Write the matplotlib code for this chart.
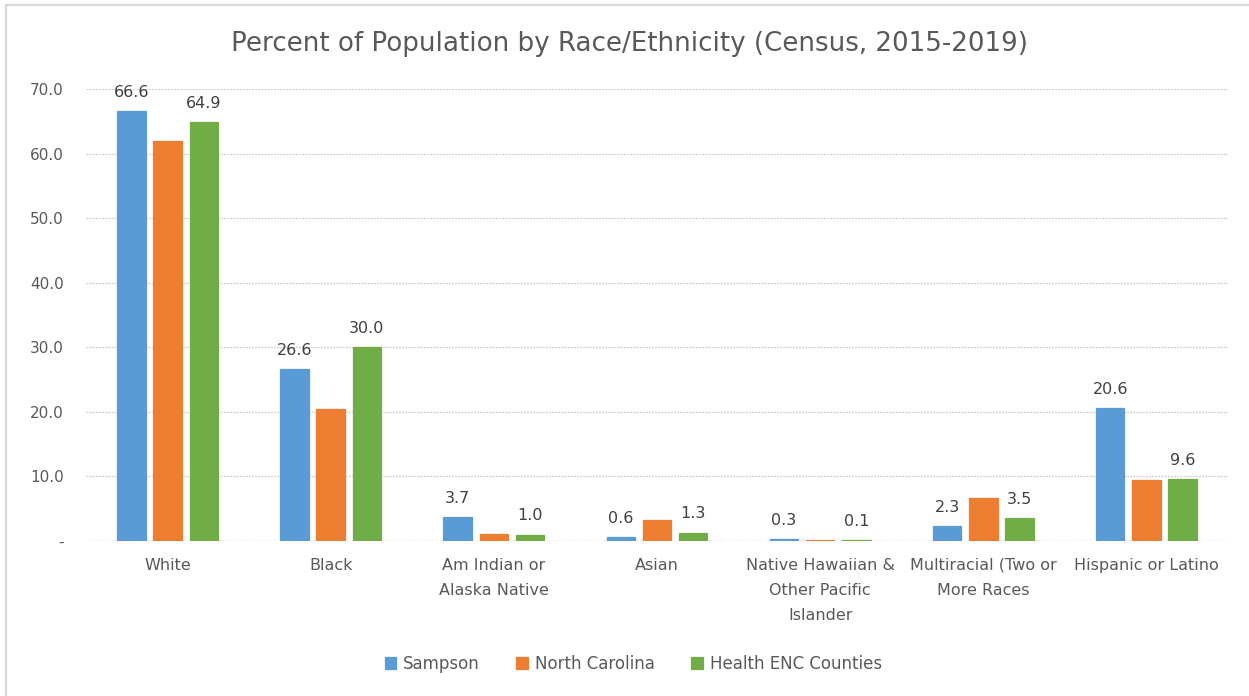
import numpy as np
import matplotlib.pyplot as plt
from matplotlib.patches import Rectangle

categories = ['White', 'Black', 'Am Indian or\nAlaska Native', 'Asian',
              'Native Hawaiian &\nOther Pacific\nIslander',
              'Multiracial (Two or\nMore Races', 'Hispanic or Latino']
sampson = [66.6, 26.6, 3.7, 0.6, 0.3, 2.3, 20.6]
north_carolina = [62.0, 20.4, 1.1, 3.2, 0.2, 6.7, 9.5]
health_enc = [64.9, 30.0, 1.0, 1.3, 0.1, 3.5, 9.6]
series_names = ['Sampson', 'North Carolina', 'Health ENC Counties']
yticks = [0, 10, 20, 30, 40, 50, 60, 70]
ytick_labels = ['-', '10.0', '20.0', '30.0', '40.0', '50.0', '60.0', '70.0']

colours = ['#5B9BD5', '#ED7D31', '#70AD47']
text_grey = '#595959'

fig = plt.figure(figsize=(12.49, 6.96), dpi=100)
W, H = 1249, 696

# chart frame (Excel chart area border)
fig.patches.append(Rectangle((6 / W, -0.05), 1.2, 1 - 5 / H + 0.05,
                             transform=fig.transFigure, fill=False,
                             edgecolor='#d9d9d9', lw=1.6))

ax = fig.add_axes([86 / W, 1 - 541 / H, (1228 - 86) / W, (541 - 89) / H])

x = np.arange(len(categories))
width = 0.175
step = 0.222
all_series = [sampson, north_carolina, health_enc]
for i, (vals, name) in enumerate(zip(all_series, series_names)):
    bars = ax.bar(x + (i - 1) * step, vals, width, color=colours[i],
                  edgecolor=colours[i], linewidth=0.9, label=name, zorder=3)
    if i != 1:  # only Sampson and Health ENC are labelled
        for b, v in zip(bars, vals):
            ax.annotate('%.1f' % v, (b.get_x() + b.get_width() / 2, v),
                        xytext=(0, 8), textcoords='offset points',
                        ha='center', va='bottom', fontsize=11.5,
                        color='#404040')

ax.set_xlim(-0.5, len(categories) - 0.5)
ax.set_ylim(0, 70)
ax.set_yticks(yticks)
ax.set_yticklabels(ytick_labels)
ax.set_xticks(x)
ax.set_xticklabels(categories, linespacing=1.85)
ax.tick_params(axis='x', length=0, labelsize=11.5, colors=text_grey, pad=12)
ax.tick_params(axis='y', length=0, labelsize=11, colors=text_grey, pad=16)
for lbl in ax.get_yticklabels():
    lbl.set_horizontalalignment('right')

ax.yaxis.grid(True, color='#cccccc', linestyle=(0, (1.5, 1)), lw=0.9, zorder=0)
ax.set_axisbelow(True)
for s in ax.spines.values():
    s.set_visible(False)
ax.axhline(0, color='#cccccc', lw=0.9, linestyle=(0, (1.5, 1)), zorder=2)

fig.text(0.504, 1 - 44 / H, 'Percent of Population by Race/Ethnicity (Census, 2015-2019)',
         ha='center', va='center', fontsize=18.8, color=text_grey)

fig.legend(loc='center', bbox_to_anchor=(0.507, 1 - 664 / H), ncol=3,
           frameon=False, fontsize=12, handlelength=0.7, handleheight=0.7,
           handletextpad=0.4, columnspacing=2.2, labelcolor=text_grey)

fig.savefig('out.png', dpi=100)
